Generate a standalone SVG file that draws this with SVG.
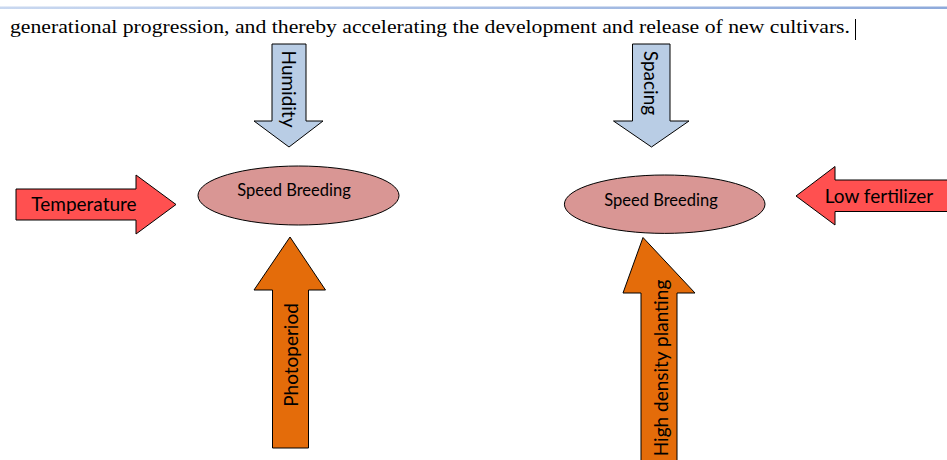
<svg xmlns="http://www.w3.org/2000/svg" width="947" height="460" viewBox="0 0 947 460">
<defs>
<linearGradient id="topline" x1="0" y1="0" x2="1" y2="0">
<stop offset="0" stop-color="#c9d8f0"/>
<stop offset="1" stop-color="#8eaadb"/>
</linearGradient>
<style>
.lbl{font-family:Lato,"Open Sans","Liberation Sans",sans-serif;fill:#000;}
.blue{fill:#b9cde5;stroke:#000;stroke-width:1;}
.red{fill:#ff5050;stroke:#000;stroke-width:1;}
.orange{fill:#e46c0a;stroke:#000;stroke-width:1;}
.ell{fill:#d99694;stroke:#000;stroke-width:1;}
</style>
</defs>
<rect x="0" y="0" width="947" height="460" fill="#fff"/>
<rect x="0" y="6.5" width="947" height="2.5" fill="url(#topline)"/>
<text x="10" y="33" font-family="'Liberation Serif',serif" font-size="19" textLength="840" lengthAdjust="spacingAndGlyphs">generational progression, and thereby accelerating the development and release of new cultivars.</text>
<line x1="855.5" y1="19" x2="855.5" y2="40" stroke="#000" stroke-width="1"/>

<g id="connectors">
<g id="humidity">
<polygon class="blue" points="272,44 306,44 306,121 323,121 289,147 254,121 272,121"/>
<text class="lbl" font-size="19" transform="translate(282,89) rotate(90)" text-anchor="middle">Humidity</text>
</g>
<g id="temperature">
<polygon class="red" points="16,189 136,189 136,175 176,204.5 136,234 136,220 16,220"/>
<text class="lbl" font-size="19" x="84" y="211" text-anchor="middle">Temperature</text>
</g>
<g id="photoperiod">
<polygon class="orange" points="272.5,448 308.5,448 308.5,290 325.5,290 290,237 254,290 272.5,290"/>
<text class="lbl" font-size="19" transform="translate(298,355) rotate(-90)" text-anchor="middle">Photoperiod</text>
</g>
<g id="spacing">
<polygon class="blue" points="632.5,44 670,44 670,121 689,121 651.5,147 613.5,121 632.5,121"/>
<text class="lbl" font-size="19" transform="translate(644,83) rotate(90)" text-anchor="middle">Spacing</text>
</g>
<g id="lowfertilizer">
<polygon class="red" points="960,180 835,180 835,166.5 796,196 835,225 835,211.5 960,211.5"/>
<text class="lbl" font-size="19" x="879" y="202.5" text-anchor="middle">Low fertilizer</text>
</g>
<g id="highdensity">
<polygon class="orange" points="641,470 677,470 677,293 695,293 643,237.5 623,293 641,293"/>
<text class="lbl" font-size="19" transform="translate(668,368) rotate(-90)" text-anchor="middle">High density planting</text>
</g>
</g>

<g id="node-left">
<ellipse class="ell" cx="298.5" cy="195.5" rx="100.5" ry="29.5"/>
<text class="lbl" font-size="16.5" x="294" y="196" text-anchor="middle">Speed Breeding</text>
</g>
<g id="node-right">
<ellipse class="ell" cx="664.7" cy="204.2" rx="100.3" ry="29.2"/>
<text class="lbl" font-size="16.5" x="661" y="205.5" text-anchor="middle">Speed Breeding</text>
</g>
</svg>
